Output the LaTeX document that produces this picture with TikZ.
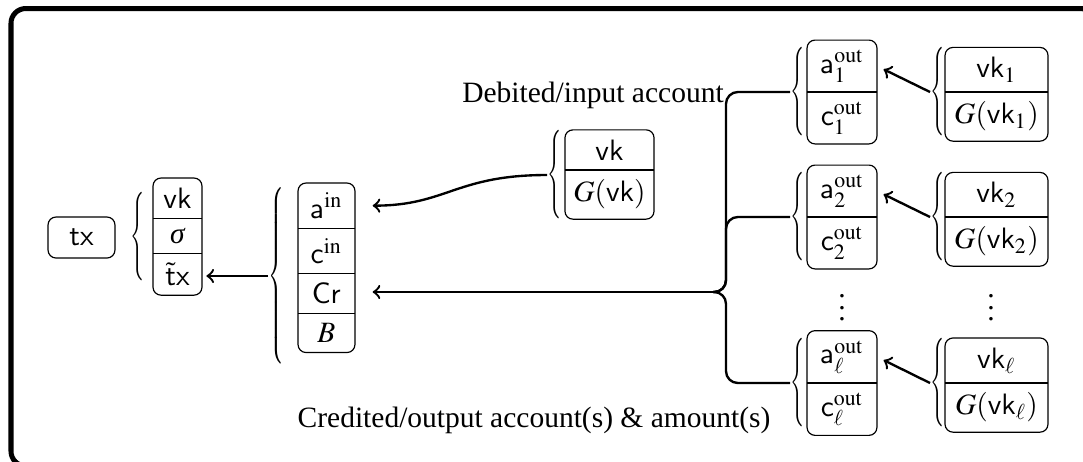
\documentclass[tikz,border=0pt]{standalone}
\usepackage{graphicx}
\usepackage{mathptmx}
\usepackage[no-math]{fontspec}
\setmainfont{Liberation Serif}
\usetikzlibrary{positioning,fit}

\newcommand{\brc}[1]{\scalebox{0.6}[1]{$\left\{\vcenter{\hbox{\vrule height #1 width 0pt}}\right.$}}

\begin{document}
\begin{tikzpicture}[x=0.339pt, y=0.339pt,
    cell/.style={minimum width=#1, inner xsep=0pt, outer sep=0pt},
    box/.style={draw, rounded corners=2.7pt, inner sep=0pt},
    brc/.style={inner sep=0pt, anchor=west},
    conn/.style={thick}]
      \useasboundingbox (0,0) rectangle (1083,-461);
      \begin{scope}
        \clip (0,0) rectangle (1083,-461);
        \draw[line width=1.7pt, rounded corners=5pt] (11,-8.5) rectangle (1095,-466);
      \end{scope}

      % signed transaction
      \node[box, inner sep=3.33pt, minimum width=22.7pt, minimum height=13.9pt] (tx) at (81.5,-237.5) {$\mathsf{tx}$};
      \node[brc] (b1) at (130,-237) {\brc{30pt}};
      \node[cell=16.6pt, anchor=north] (vk) at (177.5,-178) {$\mathsf{vk}$};
      \node[cell=16.6pt, below=0pt of vk] (sig) {\itshape σ};
      \node[cell=16.6pt, below=0pt of sig] (tt) {$\tilde{\mathsf{t}}\mathsf{x}$};
      \node[box, fit=(vk)(tt)] (s1) {};
      \draw (vk.south west) -- (vk.south east);
      \draw (sig.south west) -- (sig.south east);

      % unsigned part
      \node[brc] (b2) at (268,-276) {\brc{62pt}};
      \node[cell=19.3pt, anchor=north] (ain) at (326.5,-183) {$\mathsf{a}^{\mathrm{in}}$};
      \node[cell=19.3pt, below=0pt of ain] (cin) {$\mathsf{c}^{\mathrm{in}}$};
      \node[cell=19.3pt, below=0pt of cin] (cr) {$\mathsf{Cr}$};
      \node[cell=19.3pt, below=0pt of cr] (bb) {$B$};
      \node[box, fit=(ain)(bb)] (s2) {};
      \foreach \n in {ain,cin,cr}
        \draw (\n.south west) -- (\n.south east);
      \draw[conn, ->, shorten >=1.5pt] (b2.west) -- (b2.west -| tt.east);

      % input account
      \node[brc] (b3) at (547,-175) {\brc{30pt}};
      \node[cell=30.2pt, anchor=south] (vk0) at (609.5,-170) {$\mathsf{vk}$};
      \node[cell=30.2pt, below=0pt of vk0] (g0) {$G(\mathsf{vk})$};
      \node[box, fit=(vk0)(g0)] (s3) {};
      \draw (vk0.south west) -- (vk0.south east);
      \draw[conn, ->, shorten >=6pt] (b3.west) to[out=180, in=0, looseness=1.2] (ain.east);
      \node (deb) at (593,-95) {Debited/input account};

      % output accounts
      \coordinate (hub) at (713,-292);
      \coordinate (tk) at (726,-292);
      \draw[conn, ->, shorten >=6pt] (hub) -- (hub -| cr.east);
      \foreach \i/\s/\y in {1/1/92, 2/2/217, l/\ell/383}{
        \node[cell=23.7pt, anchor=south] (a\i) at (842,-\y) {$\mathsf{a}^{\mathrm{out}}_{\s}$};
        \node[cell=23.7pt, below=0pt of a\i] (c\i) {$\mathsf{c}^{\mathrm{out}}_{\s}$};
        \node[box, fit=(a\i)(c\i)] (fa\i) {};
        \draw (a\i.south west) -- (a\i.south east);
        \node[brc] (ba\i) at (790,-\y) {\brc{30pt}};
        \node[cell=34.9pt, anchor=south] (v\i) at (996.5,-\y) {$\mathsf{vk}_{\s}$};
        \node[cell=34.9pt, below=0pt of v\i] (g\i) {$G(\mathsf{vk}_{\s})$};
        \node[box, fit=(v\i)(g\i)] (fv\i) {};
        \draw (v\i.south west) -- (v\i.south east);
        \node[brc] (bv\i) at (930,-\y) {\brc{30pt}};
        \draw[conn, ->, shorten >=2.5pt] (bv\i.west) -- (a\i.east);
        \draw[conn, rounded corners=4pt] (hub) -| (tk |- ba\i.west) -- (ba\i.west);
      }
      \node (d1) at (842,-299) {$\vdots$};
      \node (d2) at (991,-299) {$\vdots$};
      \node (cred) at (534,-420) {Credited/output account(s) \& amount(s)};
\end{tikzpicture}
\end{document}
